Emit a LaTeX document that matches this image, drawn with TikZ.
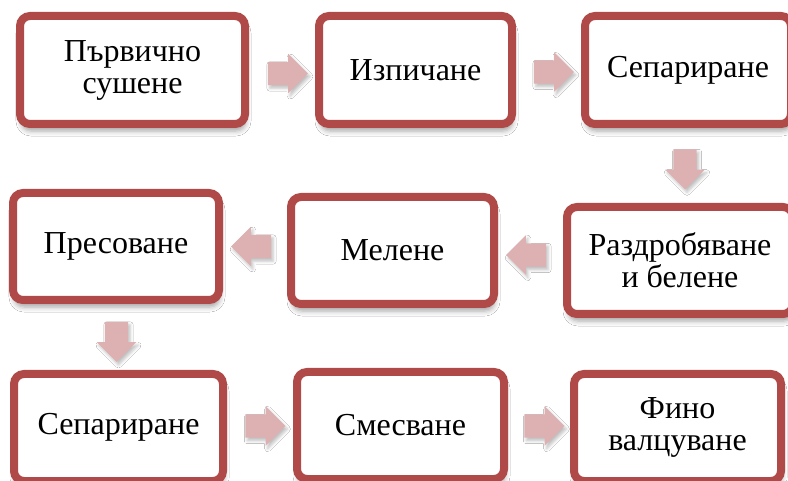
\documentclass[tikz,border=0pt]{standalone}
\usepackage{fontspec}
\setmainfont{Liberation Serif}
\usetikzlibrary{shapes.arrows,shadows.blur}
\definecolor{boxred}{HTML}{B04A48}
\definecolor{arrowpink}{HTML}{DDB1B2}
\begin{document}
\begin{tikzpicture}[x=1pt,y=-1pt,
  stepbox/.style={draw=boxred, line width=8pt, rounded corners=10pt, fill=white,
    inner sep=0pt, align=center, font=\fontsize{32}{32}\selectfont,
    blur shadow={shadow xshift=1pt, shadow yshift=-7pt, shadow blur radius=5pt, shadow opacity=35}},
  flowarrow/.style={single arrow, fill=arrowpink, draw=none, inner xsep=0pt, inner ysep=11.5pt,
    minimum height=40pt, single arrow head extend=8pt,
    single arrow head indent=0pt,
    blur shadow={shadow xshift=2pt, shadow yshift=-3pt, shadow blur radius=3pt, shadow opacity=25}}]
\useasboundingbox (0,0) rectangle (788,481);
\fill[white] (0,0) rectangle (788,481);

\node[stepbox, minimum width=225pt, minimum height=108pt] (b1) at (132.5,70) {Първично\\сушене};
\node[stepbox, minimum width=193pt, minimum height=108pt] (b2) at (415.5,70) {Изпичане};
\node[stepbox, minimum width=206pt, minimum height=108pt] (b3) at (688,70) {Сепариране};
\node[stepbox, minimum width=226pt, minimum height=107pt] (b4) at (680,260.5) {Раздробяване\\и белене};
\node[stepbox, minimum width=203pt, minimum height=107pt] (b5) at (392.5,250.5) {Мелене};
\node[stepbox, minimum width=206pt, minimum height=107pt] (b6) at (116,246.5) {Пресоване};
\node[stepbox, minimum width=209pt, minimum height=107pt] (b7) at (118.5,427.5) {Сепариране};
\node[stepbox, minimum width=207pt, minimum height=107pt] (b8) at (400.5,425.5) {Смесване};
\node[stepbox, minimum width=207pt, minimum height=107pt] (b9) at (677.5,427.5) {Фино\\валцуване};

\node[flowarrow] (a1) at (282,73.5) {};
\node[flowarrow] (a2) at (548,72) {};
\node[flowarrow, rotate=-90] (a3) at (685,163.5) {};
\node[flowarrow, rotate=180] (a4) at (532,255) {};
\node[flowarrow, rotate=180] (a5) at (257,246.5) {};
\node[flowarrow, rotate=-90] (a6) at (116.5,336) {};
\node[flowarrow] (a7) at (259.5,426) {};
\node[flowarrow] (a8) at (538.5,426) {};
\end{tikzpicture}
\end{document}
